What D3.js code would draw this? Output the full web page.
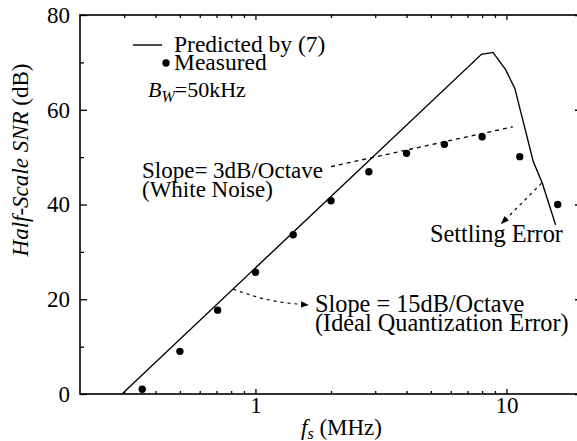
<!DOCTYPE html>
<html>
<head>
<meta charset="utf-8">
<script src="https://cdn.jsdelivr.net/npm/d3@7"></script>
<style>
  body { margin: 0; background: #fff; }
  svg { display: block; }
  text { font-family: "Liberation Serif", "Times New Roman", serif; fill: #000; }
</style>
</head>
<body>
<div id="chart"></div>
<script>
// measured SNR points (octave steps)
var measuredFreq = [0.354, 0.5, 0.707, 1, 1.414, 2, 2.83, 4, 5.66, 8, 11.3, 16];
var measuredSnr = [1, 9, 17.7, 25.7, 33.6, 40.8, 46.9, 50.8, 52.7, 54.3, 50.1, 40.0];

// predicted by (7)
var predFreq = [0.294, 7.95, 8.84, 9.94, 10.8, 12.8, 13.9, 15.7];
var predSnr = [0, 71.7, 72.1, 68.4, 64.5, 49.0, 44.5, 35.7];

// annotation guides, [MHz, dB]
var whiteNoiseGuide = [[2.0, 48.0], [10.6, 56.4]];
var quantArrow = [[0.816, 22.1], [1.142, 19.8], [1.62, 18.8]];
var settlingArrow = [[13.8, 44.5], [9.57, 36.0]];

var yTicks = [0, 20, 40, 60, 80];
var yMinor = [10, 30, 50, 70];
var xTicks = [1, 10];
var xMinor = [0.3, 0.4, 0.5, 0.6, 0.7, 0.8, 0.9, 2, 3, 4, 5, 6, 7, 8, 9, 20];

var W = 577, H = 441;
var plotL = 80, plotR = 582, plotT = 15, plotB = 394;

var svg = d3.select("#chart").append("svg")
    .attr("width", W)
    .attr("height", H);

var x = d3.scaleLog().domain([0.2, 20]).range([plotL, plotR]);
var y = d3.scaleLinear().domain([0, 80]).range([plotB, plotT]);

// frame
svg.append("rect")
    .attr("x", plotL).attr("y", plotT)
    .attr("width", plotR - plotL).attr("height", plotB - plotT)
    .attr("fill", "none").attr("stroke", "#000").attr("stroke-width", 1.6);

function tickAxis(axis, vals, size, pos, showLabels) {
    var g = svg.append("g").attr("transform", pos)
        .call(axis.tickValues(vals).tickSizeInner(size).tickSizeOuter(0)
            .tickFormat(showLabels ? d3.format("d") : ""));
    g.select(".domain").remove();
    g.selectAll("line").attr("stroke-width", 1.3);
    return g;
}

// left axis
var gy = tickAxis(d3.axisLeft(y), yTicks, -7, "translate(" + plotL + ",0)", true);
gy.selectAll("text").attr("x", -10).style("font-size", "23px");
tickAxis(d3.axisLeft(y), yMinor, -4, "translate(" + plotL + ",0)", false);
// right axis
tickAxis(d3.axisRight(y), yTicks, -7, "translate(" + plotR + ",0)", false);
tickAxis(d3.axisRight(y), yMinor, -4, "translate(" + plotR + ",0)", false);

// bottom axis
var gx = tickAxis(d3.axisBottom(x), xTicks, -5, "translate(0," + plotB + ")", true);
gx.selectAll("text").attr("dy", null).attr("y", 19).style("font-size", "23px");
tickAxis(d3.axisBottom(x), xMinor, -3, "translate(0," + plotB + ")", false);
// top axis
tickAxis(d3.axisTop(x), xTicks, -5, "translate(0," + plotT + ")", false);
tickAxis(d3.axisTop(x), xMinor, -3, "translate(0," + plotT + ")", false);

// axis titles
var yl = svg.append("text")
    .attr("transform", "translate(28,160) rotate(-90)")
    .attr("text-anchor", "middle")
    .style("font-size", "23px");
yl.append("tspan").style("font-style", "italic").text("Half-Scale SNR");
yl.append("tspan").text(" (dB)");

var xl = svg.append("text").attr("x", 301).attr("y", 435).style("font-size", "23px");
xl.append("tspan").style("font-style", "italic").text("f");
xl.append("tspan").style("font-style", "italic").style("font-size", "16px").attr("dy", 4).text("s");
xl.append("tspan").attr("dy", -4).text(" (MHz)");

// predicted line
var line = d3.line().x(function(d) { return x(d[0]); }).y(function(d) { return y(d[1]); });
svg.append("path")
    .datum(d3.zip(predFreq, predSnr))
    .attr("d", line)
    .attr("fill", "none").attr("stroke", "#000").attr("stroke-width", 1.4);

// measured points
svg.selectAll("circle.meas")
    .data(d3.zip(measuredFreq, measuredSnr))
    .enter().append("circle")
    .attr("class", "meas")
    .attr("cx", function(d) { return x(d[0]); })
    .attr("cy", function(d) { return y(d[1]); })
    .attr("r", 3.7)
    .attr("fill", "#000");

// arrowhead
svg.append("defs").append("marker")
    .attr("id", "head")
    .attr("viewBox", "0 0 10 10")
    .attr("refX", 9).attr("refY", 5)
    .attr("markerWidth", 8).attr("markerHeight", 8)
    .attr("markerUnits", "userSpaceOnUse")
    .attr("orient", "auto")
    .append("path").attr("d", "M0,1 L10,5 L0,9 Z").attr("fill", "#000");

svg.append("path")
    .datum(whiteNoiseGuide)
    .attr("d", line)
    .attr("fill", "none").attr("stroke", "#000").attr("stroke-width", 1.3)
    .attr("stroke-dasharray", "4,4");

var curve = d3.line().curve(d3.curveNatural)
    .x(function(d) { return x(d[0]); }).y(function(d) { return y(d[1]); });
svg.append("path")
    .datum(quantArrow)
    .attr("d", curve)
    .attr("fill", "none").attr("stroke", "#000").attr("stroke-width", 1.2)
    .attr("stroke-dasharray", "3,4")
    .attr("marker-end", "url(#head)");

svg.append("path")
    .datum(settlingArrow)
    .attr("d", line)
    .attr("fill", "none").attr("stroke", "#000").attr("stroke-width", 1.2)
    .attr("stroke-dasharray", "3,4")
    .attr("marker-end", "url(#head)");

// legend
svg.append("line").attr("x1", 133).attr("x2", 162).attr("y1", 45).attr("y2", 45)
    .attr("stroke", "#000").attr("stroke-width", 1.4);
svg.append("text").attr("x", 174).attr("y", 52).style("font-size", "23.5px").text("Predicted by (7)");
svg.append("circle").attr("cx", 166).attr("cy", 63).attr("r", 3.7).attr("fill", "#000");
svg.append("text").attr("x", 174).attr("y", 70).style("font-size", "23.5px").text("Measured");

var bw = svg.append("text").attr("x", 148).attr("y", 97).style("font-size", "22px");
bw.append("tspan").style("font-style", "italic").text("B");
bw.append("tspan").style("font-style", "italic").style("font-size", "16px").attr("dy", 5).text("W");
bw.append("tspan").attr("dy", -5).text("=50kHz");

// annotations
function label(xp, yp, size, lines) {
    var t = svg.append("text").attr("x", xp).attr("y", yp).style("font-size", size + "px");
    lines.forEach(function(s, i) {
        t.append("tspan").attr("x", xp).attr("dy", i === 0 ? 0 : 19).text(s);
    });
}
label(142, 178, 23, ["Slope= 3dB/Octave", "(White Noise)"]);
label(315, 312, 24.3, ["Slope = 15dB/Octave", "(Ideal Quantization Error)"]);
label(430, 242, 24.3, ["Settling Error"]);
</script>
</body>
</html>
